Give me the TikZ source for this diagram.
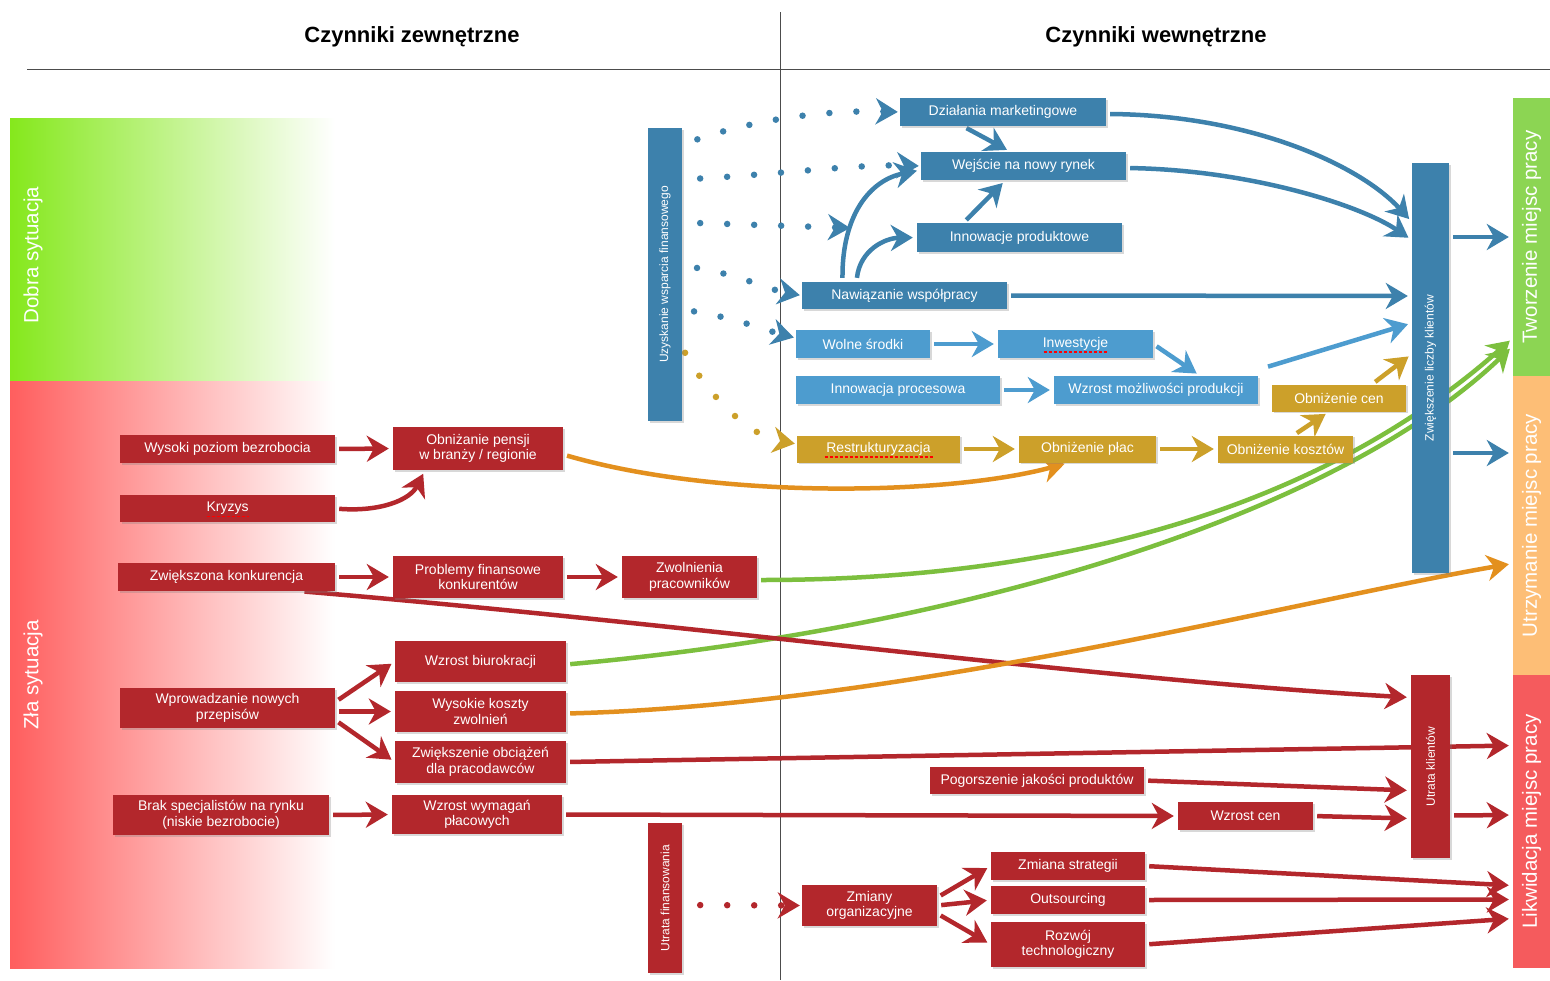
\documentclass[tikz,border=0pt]{standalone}
\usepackage{fontspec}
\usepackage{graphicx}
\setmainfont{Liberation Sans}
\usetikzlibrary{arrows.meta,shadows}
\pgfdeclarelayer{bgl}
\pgfdeclarelayer{arl}
\pgfsetlayers{bgl,arl,main}
\definecolor{nred}{HTML}{B3272C}
\definecolor{nblue}{HTML}{3D81AC}
\definecolor{lblue}{HTML}{4D9CCF}
\definecolor{gold}{HTML}{CCA02A}
\definecolor{aorange}{HTML}{E3901E}
\definecolor{agreen}{HTML}{7CBF3E}
\definecolor{bgreen}{HTML}{8CD553}
\definecolor{borange}{HTML}{FDBE76}
\definecolor{bred}{HTML}{F55B5D}
\definecolor{lgreen}{HTML}{85E81C}
\definecolor{lred}{HTML}{FF5E5E}
\tikzset{
 nbox/.style={rectangle, text=white, align=center, inner sep=1pt,
   font=\fontsize{14}{15.5}\selectfont,
   drop shadow={opacity=0.3, shadow xshift=1.5pt, shadow yshift=-1.5pt}},
 rb/.style={nbox, fill=nred},
 bb/.style={nbox, fill=nblue},
 lb/.style={nbox, fill=lblue},
 gb/.style={nbox, fill=gold},
 vbar/.style={nbox, inner sep=0pt, font=\fontsize{12}{13}\selectfont},
 sidebar/.style={rectangle, inner sep=0pt, text=white, font=\fontsize{20.5}{24}\selectfont},
 sz/.style 2 args={minimum width=#1pt, minimum height=#2pt},
 arr/.style={line width=4.5pt, -{Stealth[length=22pt,width=26pt,inset=7pt]}, shorten <=4pt, shorten >=4pt},
 dotarr/.style={line width=6.5pt, line cap=round, dash pattern=on 0pt off 27pt,
   -{Stealth[length=22pt,width=26pt,inset=7pt]}, shorten >=2pt},
 spell/.style={red, line width=1.5pt, dash pattern=on 3pt off 2pt},
 head/.style={font=\bfseries\fontsize{22}{26}\selectfont},
}
\begin{document}
\begin{tikzpicture}[x=1pt,y=-1pt]
\useasboundingbox (0,0) rectangle (1550,980);

\begin{pgfonlayer}{bgl}
\fill[white] (0,0) rectangle (1550,980);
\shade[left color=lgreen, middle color=lgreen!55!white, right color=white] (10,118) rectangle (335,381);
\shade[left color=lred, middle color=lred!55!white, right color=white] (10,381) rectangle (335,968);
\draw[line width=1pt, black!70] (27,69) -- (1550,69);
\draw[line width=1pt, black!70] (780,12) -- (780,980);
\end{pgfonlayer}

% headers and side labels
\node[head] (h1) at (412,37) {Czynniki zewnętrzne};
\node[head] (h2) at (1156,37) {Czynniki wewnętrzne};
\node[sidebar] (dob) at (33,255) {\rotatebox{90}{Dobra sytuacja}};
\node[sidebar] (zla) at (33,675) {\rotatebox{90}{Zła sytuacja}};

\node[sidebar, fill=bgreen, sz={37}{278}] (tw) at (1531.5,237) {\rotatebox{90}{Tworzenie miejsc pracy}};
\node[sidebar, fill=borange, sz={37}{299}] (ut) at (1531.5,525.5) {\rotatebox{90}{Utrzymanie miejsc pracy}};
\node[sidebar, fill=bred, sz={37}{293}] (lk) at (1531.5,821.5) {\rotatebox{90}{Likwidacja miejsc pracy}};

% vertical bars
\node[vbar, fill=nblue, sz={34}{293}] (uz) at (665,274.5) {\rotatebox{90}{Uzyskanie wsparcia finansowego}};
\node[vbar, fill=nblue, sz={37}{410}] (zk) at (1430.5,368) {\rotatebox{90}{Zwiększenie liczby klientów}};
\node[vbar, fill=nred, sz={39}{183}] (uk) at (1430.5,766.5) {\rotatebox{90}{Utrata klientów}};
\node[vbar, fill=nred, sz={34}{150}] (uf) at (665,898) {\rotatebox{90}{Utrata finansowania}};

% blue nodes
\node[bb, sz={206}{28}] (dm) at (1003,112) {Działania marketingowe};
\node[bb, sz={205}{28}] (wn) at (1023.5,166) {Wejście na nowy rynek};
\node[bb, sz={205}{29}] (ip) at (1019.5,237.5) {Innowacje produktowe};
\node[bb, sz={205}{27}] (nw) at (904.5,295.5) {Nawiązanie współpracy};
\node[lb, sz={134}{28}] (ws) at (863,344) {Wolne środki};
\node[lb, sz={155}{28}] (inw) at (1075.5,344) {Inwestycje};
\node[lb, sz={204}{28}] (ipr) at (898,390) {Innowacja procesowa};
\node[lb, sz={204}{28}] (wmp) at (1156,390) {Wzrost możliwości produkcji};
% gold nodes
\node[gb, sz={163}{27}] (res) at (878.5,449) {Restrukturyzacja};
\node[gb, sz={137}{27}] (opl) at (1087.5,449) {Obniżenie płac};
\node[gb, sz={135}{27}] (oko) at (1285.5,449) {Obniżenie kosztów};
\node[gb, sz={134}{27}] (oce) at (1339,398) {Obniżenie cen};
% red nodes
\node[rb, sz={215}{28}] (wys) at (227.5,449) {Wysoki poziom bezrobocia};
\node[rb, sz={170}{43}] (obp) at (478,448.5) {Obniżanie pensji\\w branży / regionie};
\node[rb, sz={215}{27}] (kry) at (227.5,508.5) {Kryzys};
\node[rb, sz={217}{28}] (zkn) at (226.5,577) {Zwiększona konkurencja};
\node[rb, sz={170}{42}] (pf) at (478,577) {Problemy finansowe\\konkurentów};
\node[rb, sz={135}{42}] (zw) at (689.5,577) {Zwolnienia\\pracowników};
\node[rb, sz={171}{41}] (wb) at (480.5,661.5) {Wzrost biurokracji};
\node[rb, sz={215}{40}] (wp) at (227.5,708) {Wprowadzanie nowych\\przepisów};
\node[rb, sz={171}{41}] (wk) at (480.5,711.5) {Wysokie koszty\\zwolnień};
\node[rb, sz={171}{42}] (zob) at (480.5,762) {Zwiększenie obciążeń\\dla pracodawców};
\node[rb, sz={216}{40}] (bs) at (221,815) {Brak specjalistów na rynku\\(niskie bezrobocie)};
\node[rb, sz={170}{39}] (wwp) at (477,814.5) {Wzrost wymagań\\płacowych};
\node[rb, sz={214}{27}] (pog) at (1037,780.5) {Pogorszenie jakości produktów};
\node[rb, sz={135}{28}] (wc) at (1245.5,816) {Wzrost cen};
\node[rb, sz={135}{41}] (zo) at (869.5,905.5) {Zmiany\\organizacyjne};
\node[rb, sz={154}{28}] (zs) at (1068,866) {Zmiana strategii};
\node[rb, sz={154}{28}] (out) at (1068,900) {Outsourcing};
\node[rb, sz={154}{45}] (roz) at (1068,944.5) {Rozwój\\technologiczny};

% spell-check underlines
\draw[spell] ([xshift=-32pt,yshift=-8pt]inw.center) -- ([xshift=32pt,yshift=-8pt]inw.center);
\draw[spell] ([xshift=-54pt,yshift=-8pt]res.center) -- ([xshift=54pt,yshift=-8pt]res.center);
\draw[spell] ([xshift=-21pt,yshift=-8pt]kry.center) -- ([xshift=21pt,yshift=-8pt]kry.center);

\coordinate (e3) at (852,228);

\begin{pgfonlayer}{arl}
% dotted from Uzyskanie
\draw[dotarr,nblue,shorten <=16pt] ([yshift=130pt]uz.east) .. controls (760,118) and (830,110) .. (dm.west);
\draw[dotarr,nblue,shorten <=18pt] ([yshift=95pt]uz.east) .. controls (780,174) and (860,164) .. (wn.west);
\draw[dotarr,nblue,shorten <=18pt] ([yshift=52pt]uz.east) -- (e3);
\draw[dotarr,nblue,shorten <=15pt] ([yshift=9pt]uz.east) .. controls (740,275) and (770,290) .. (nw.west);
\draw[dotarr,nblue,shorten <=12pt] ([yshift=-35pt]uz.east) .. controls (735,318) and (765,330) .. ([yshift=6pt]ws.west);
\draw[dotarr,gold,shorten <=6pt] ([yshift=-73pt]uz.east) .. controls (705,390) and (745,435) .. ([yshift=5pt]res.west);
% blue
\draw[arr,nblue] ([xshift=-62pt]nw.north) .. controls (842,215) and (870,180) .. ([yshift=-4pt]wn.west);
\draw[arr,nblue] ([xshift=-48pt]nw.north) .. controls (860,250) and (885,238) .. (ip.west);
\draw[arr,nblue] ([xshift=-40pt]dm.south) -- ([xshift=-13pt]wn.north);
\draw[arr,nblue] ([xshift=-56pt]ip.north) -- ([xshift=-18pt]wn.south);
\draw[arr,nblue] ([yshift=-2pt]dm.east) .. controls (1250,115) and (1360,165) .. ([yshift=146pt]zk.west);
\draw[arr,nblue] ([yshift=-2pt]wn.east) .. controls (1250,170) and (1360,205) .. ([yshift=128pt]zk.west);
\draw[arr,nblue] (nw.east) -- ([yshift=72pt]zk.west);
\draw[arr,lblue] (ws.east) -- (inw.west);
\draw[arr,lblue] (inw.east) -- ([xshift=44pt]wmp.north);
\draw[arr,lblue] (ipr.east) -- (wmp.west);
\draw[arr,lblue] ([xshift=6pt,yshift=8pt]wmp.north east) -- ([yshift=45pt]zk.west);
% gold
\draw[arr,gold] (res.east) -- (opl.west);
\draw[arr,gold] (opl.east) -- (oko.west);
\draw[arr,gold] ([xshift=8pt]oko.north) -- ([xshift=-10pt]oce.south);
\draw[arr,gold] ([xshift=33pt]oce.north) -- ([yshift=14pt]zk.west);
% to result bars
\draw[arr,nblue] (zk.east |- tw.west) -- (tw.west);
\draw[arr,nblue] ([yshift=-85pt]zk.east) -- ([yshift=72.5pt]ut.west);
% red left
\draw[arr,nred] (wys.east) -- (obp.west);
\draw[arr,nred] (kry.east) .. controls (380,512) and (410,500) .. ([xshift=-53pt]obp.south);
\draw[arr,nred] (zkn.east) -- (pf.west);
\draw[arr,nred] (pf.east) -- (zw.west);
\draw[arr,aorange] ([yshift=-6pt]obp.east) .. controls (720,500) and (950,495) .. ([xshift=-19pt]opl.south);
\draw[arr,agreen] ([yshift=-3pt]zw.east) .. controls (1080,580) and (1330,500) .. ([yshift=-101pt]tw.west);
\draw[arr,agreen] ([yshift=-3pt]wb.east) .. controls (950,630) and (1330,520) .. ([yshift=-109pt]tw.west);
\draw[arr,nred] ([xshift=74pt]zkn.south) .. controls (700,625) and (1100,680) .. ([yshift=69pt]uk.west);
\draw[arr,aorange] ([yshift=-2pt]wk.east) .. controls (900,705) and (1300,600) .. ([yshift=-38pt]ut.west);
\draw[arr,nred] (zob.east) -- ([yshift=76pt]lk.west);
\draw[arr,nred] (wwp.east) -- (wc.west);
\draw[arr,nred] (pog.east) -- ([yshift=-24pt]uk.west);
\draw[arr,nred] (wc.east) -- ([yshift=-52pt]uk.west);
\draw[arr,nred] ([yshift=-49pt]uk.east) -- ([yshift=6.5pt]lk.west);
\draw[dotarr,nred,shorten <=18pt] ([yshift=-7pt]uf.east) -- (zo.west);
\draw[arr,nred] ([yshift=8pt]zo.east) -- (zs.west);
\draw[arr,nred] (zo.east) -- (out.west);
\draw[arr,nred] ([yshift=-8pt]zo.east) -- (roz.west);
\draw[arr,nred] (zs.east) -- ([yshift=-64pt]lk.west);
\draw[arr,nred] (out.east) -- ([yshift=-78pt]lk.west);
\draw[arr,nred] (roz.east) -- ([yshift=-97pt]lk.west);
\draw[arr,nred] ([yshift=6pt]wp.east) -- (wb.west);
\draw[arr,nred] (wp.east |- wk.west) -- (wk.west);
\draw[arr,nred] ([yshift=-12pt]wp.east) -- (zob.west);
\draw[arr,nred] (bs.east) -- (wwp.west);
\end{pgfonlayer}
\end{tikzpicture}
\end{document}
